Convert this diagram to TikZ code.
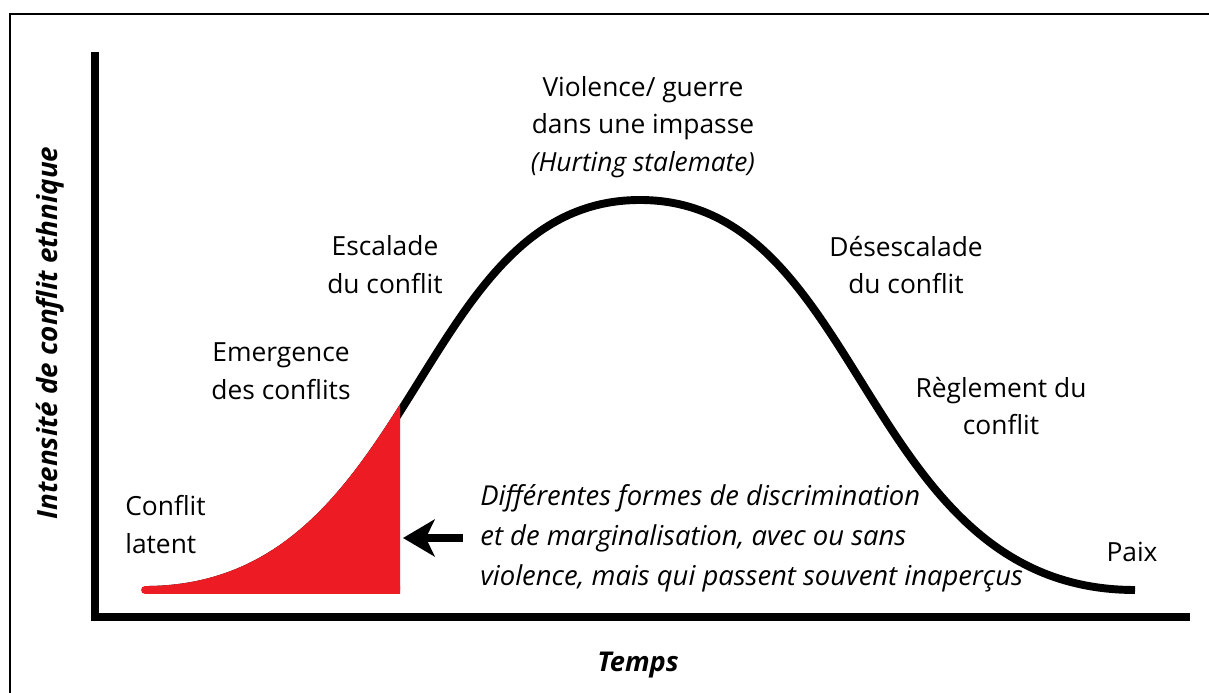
\documentclass[tikz,border=0pt]{standalone}
\usepackage{fontspec}
\setmainfont{Open Sans}
\usetikzlibrary{arrows.meta}
\definecolor{conflitred}{RGB}{237,28,36}

\begin{document}
\begin{tikzpicture}[
  every node/.style={font=\fontsize{15}{21.5}\selectfont, inner sep=0pt},
  axe/.style={line width=4pt},
  courbe/.style={line width=4.5pt},
  etiquette/.style={align=center},
  titre/.style={font=\fontsize{15.5}{21.5}\selectfont\bfseries\itshape},
  fleche/.style={-{Stealth[length=18pt,width=21pt,inset=5pt]}, line width=4pt}
]
\useasboundingbox (0,0) rectangle (24.18,13.86);
% frame
\draw[line width=1.1pt] (0.2,0) -- (0.2,13.58) -- (24.18,13.58);

% axes
\draw[axe] (1.9,12.82) -- (1.9,1.52) -- (23.8,1.52);
\node[titre, rotate=90, font=\fontsize{15.8}{21.5}\selectfont\bfseries\itshape] (intensite) at (1.0,7.2) {Intensité de conflit ethnique};
\node[titre] (temps) at (12.76,0.56) {Temps};

% bell curve
\draw[courbe] (2.9,2.06) .. controls (8.4,2.06) and (8.26,9.86) .. (12.8,9.86)
  .. controls (17.34,9.86) and (17.2,2.06) .. (22.7,2.06);

% red part under the curve
\begin{scope}
  \clip (2.5,1.8) rectangle (8.0,10.5);
  \filldraw[courbe, conflitred, line join=round] (2.9,2.06) .. controls (8.4,2.06) and (8.26,9.86) .. (12.8,9.86)
    -- (12.8,2.06) -- cycle;
\end{scope}

% phases
\node[etiquette] (impasse) at (12.86,11.32) {Violence/ guerre\\dans une impasse\\\textit{(Hurting stalemate)}};
\node[etiquette] (escalade) at (7.7,8.56) {Escalade\\du conflit};
\node[etiquette] (desescalade) at (18.12,8.56) {Désescalade\\du conflit};
\node[etiquette] (emergence) at (5.62,6.44) {Emergence\\des conflits};
\node[etiquette] (reglement) at (20.02,5.74) {Règlement du\\conflit};
\node[anchor=west, align=left] (latent) at (2.5,3.37) {Conflit\\latent};
\node (paix) at (22.64,2.82) {Paix};

% note with arrow
\coordinate (redtip) at (8.06,3.1);
\node[anchor=west, align=left, font=\fontsize{15.6}{22.7}\selectfont\itshape] (disc) at (9.6,3.1)
  {Différentes formes de discrimination\\et de marginalisation, avec ou sans\\violence, mais qui passent souvent inaperçus};
\draw[fleche, shorten <=0.34cm] (disc.west) -- (redtip);

\end{tikzpicture}
\end{document}
